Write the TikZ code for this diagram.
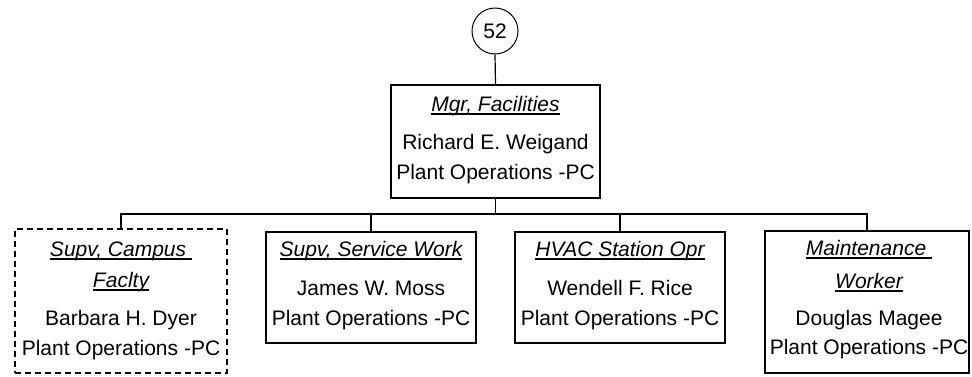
\documentclass[tikz,border=0pt]{standalone}
\usepackage{fontspec}
\setmainfont{Liberation Sans}
\newcommand\ulx[1]{\setbox0\hbox{#1}\rlap{\rule[-4pt]{\wd0}{1.6pt}}\box0}
\begin{document}
\begin{tikzpicture}[x=1pt,y=-1pt,
  font=\fontsize{21}{25}\selectfont,
  orgbox/.style={draw, line width=1.2pt, inner sep=0pt, rectangle},
  dashbox/.style={orgbox, dash pattern=on 6pt off 4pt},
  conn/.style={line width=1.2pt},
  txt/.style={anchor=base, inner sep=0pt}]
\useasboundingbox (0,0) rectangle (972,376);
% circle
\node[draw, circle, line width=1pt, minimum size=46pt, inner sep=0pt] (c) at (495,31) {52};
% boxes
\node[orgbox, minimum width=209pt, minimum height=113pt] (b0) at (495.5,141.5) {};
\node[dashbox, minimum width=212pt, minimum height=144pt] (b1) at (121,301) {};
\node[orgbox, minimum width=210pt, minimum height=111pt] (b2) at (371,287.5) {};
\node[orgbox, minimum width=210pt, minimum height=111pt] (b3) at (620,287.5) {};
\node[orgbox, minimum width=204pt, minimum height=142pt] (b4) at (867,302) {};
% texts
\node[txt] (t0a) at (495.5,111) {\ulx{\itshape Mgr, Facilities}};
\node[txt] (t0b) at (495.5,149) {Richard E. Weigand};
\node[txt] (t0c) at (495.5,179) {Plant Operations -PC};
\node[txt] (t1a) at (121,256) {\ulx{\itshape Supv, Campus }};
\node[txt] (t1b) at (121,287) {\ulx{\itshape Faclty}};
\node[txt] (t1c) at (121,325) {Barbara H. Dyer};
\node[txt] (t1d) at (121,355) {Plant Operations -PC};
\node[txt] (t2a) at (371,256) {\ulx{\itshape Supv, Service Work}};
\node[txt] (t2b) at (371,295) {James W. Moss};
\node[txt] (t2c) at (371,325) {Plant Operations -PC};
\node[txt] (t3a) at (620,256) {\ulx{\itshape HVAC Station Opr}};
\node[txt] (t3b) at (620,295) {Wendell F. Rice};
\node[txt] (t3c) at (620,325) {Plant Operations -PC};
\node[txt] (t4a) at (869,255) {\ulx{\itshape Maintenance }};
\node[txt] (t4b) at (869,288) {\ulx{\itshape Worker}};
\node[txt] (t4c) at (869,325) {Douglas Magee};
\node[txt] (t4d) at (869,354) {Plant Operations -PC};
% connectors
\coordinate (bus) at (495.5,214);
\draw[conn] (c.south) -- (b0.north);
\draw[conn] (b0.south) -- (bus);
\foreach \b in {b1,b2,b3,b4} \draw[conn] (bus) -| (\b.north);
\end{tikzpicture}
\end{document}
